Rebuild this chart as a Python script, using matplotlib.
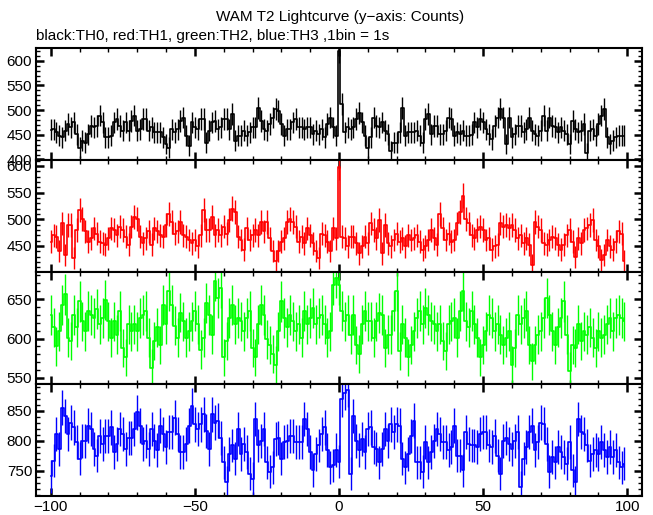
import numpy as np
import matplotlib
matplotlib.use("Agg")
import matplotlib.pyplot as plt
from matplotlib.ticker import MultipleLocator

plt.rcParams['font.family'] = ['Liberation Sans', 'DejaVu Sans']

time = list(range(-100, 100))

th0 = [
    460, 461, 455, 448, 445, 458, 472, 465, 475, 451,
    424, 438, 434, 451, 468, 465, 468, 489, 475, 445,
    445, 448, 475, 482, 468, 458, 475, 458, 478, 489,
    458, 461, 482, 482, 458, 465, 455, 455, 455, 445,
    431, 424, 461, 455, 461, 478, 485, 448, 428, 475,
    465, 461, 482, 482, 434, 458, 475, 478, 461, 465,
    482, 482, 461, 492, 438, 448, 448, 458, 448, 455,
    465, 465, 505, 478, 461, 458, 472, 485, 502, 499,
    472, 448, 461, 461, 475, 482, 465, 465, 461, 465,
    465, 451, 458, 451, 461, 445, 472, 485, 465, 448,
    620, 512, 455, 465, 461, 465, 482, 495, 475, 448,
    424, 445, 485, 468, 465, 475, 458, 451, 418, 434,
    434, 455, 505, 448, 455, 455, 455, 458, 448, 434,
    482, 492, 451, 468, 468, 451, 451, 458, 485, 482,
    448, 455, 451, 458, 448, 448, 450, 475, 465, 482,
    475, 461, 451, 441, 468, 485, 502, 485, 431, 485,
    445, 451, 468, 468, 455, 461, 485, 458, 451, 448,
    458, 489, 458, 485, 468, 465, 455, 465, 458, 451,
    431, 478, 461, 455, 458, 472, 414, 458, 461, 448,
    472, 489, 502, 445, 431, 438, 445, 448, 448, 448,
]

th1 = [
    458, 470, 467, 440, 492, 433, 489, 489, 427, 480,
    517, 501, 477, 458, 464, 483, 473, 458, 455, 452,
    464, 483, 480, 470, 486, 480, 467, 452, 486, 504,
    501, 467, 455, 464, 477, 452, 483, 477, 470, 467,
    489, 510, 495, 473, 477, 495, 470, 467, 461, 455,
    461, 449, 470, 517, 480, 480, 504, 470, 480, 470,
    486, 473, 498, 520, 514, 467, 461, 443, 483, 461,
    470, 480, 470, 495, 477, 495, 464, 440, 421, 440,
    458, 464, 495, 501, 495, 486, 458, 467, 455, 483,
    470, 455, 440, 427, 473, 470, 458, 440, 483, 464,
    598, 467, 464, 449, 467, 467, 455, 436, 449, 467,
    455, 492, 480, 464, 498, 436, 489, 455, 449, 461,
    473, 458, 464, 449, 470, 461, 464, 470, 458, 443,
    449, 461, 480, 464, 452, 510, 483, 461, 473, 458,
    461, 492, 514, 544, 501, 492, 470, 464, 480, 486,
    480, 461, 464, 443, 449, 452, 492, 486, 489, 483,
    489, 480, 464, 470, 455, 464, 452, 415, 495, 486,
    480, 455, 452, 461, 467, 464, 452, 443, 452, 470,
    480, 458, 430, 464, 455, 480, 483, 489, 498, 461,
    449, 424, 433, 461, 449, 443, 458, 477, 473, 421,
]

th2 = [
    630, 614, 590, 609, 643, 656, 601, 597, 630, 614,
    647, 622, 609, 635, 630, 626, 637, 618, 626, 649,
    622, 601, 622, 605, 635, 588, 576, 618, 609, 618,
    609, 626, 630, 635, 601, 563, 597, 614, 592, 643,
    618, 660, 643, 616, 601, 633, 622, 601, 609, 622,
    635, 618, 586, 601, 645, 630, 605, 673, 651, 664,
    576, 597, 626, 643, 618, 626, 622, 609, 626, 635,
    588, 576, 618, 643, 630, 599, 592, 580, 567, 609,
    647, 626, 614, 630, 622, 609, 618, 601, 635, 618,
    626, 639, 618, 626, 630, 618, 601, 609, 668, 677,
    668, 635, 622, 630, 605, 630, 592, 580, 618, 635,
    622, 622, 601, 622, 632, 630, 588, 605, 605, 635,
    660, 584, 618, 601, 576, 592, 609, 626, 635, 618,
    639, 630, 622, 618, 609, 618, 597, 584, 618, 622,
    626, 601, 635, 660, 622, 614, 635, 618, 601, 576,
    592, 609, 630, 626, 609, 618, 605, 592, 601, 609,
    567, 588, 630, 618, 626, 635, 592, 571, 592, 605,
    609, 626, 651, 630, 609, 592, 614, 626, 647, 605,
    559, 592, 588, 618, 597, 609, 605, 614, 601, 588,
    609, 601, 605, 618, 626, 609, 626, 630, 626, 622,
]

th3 = [
    741, 767, 811, 786, 855, 841, 811, 830, 822, 797,
    770, 800, 800, 825, 819, 786, 775, 808, 795, 808,
    808, 822, 781, 795, 819, 811, 786, 805, 805, 819,
    847, 825, 795, 800, 786, 819, 800, 784, 825, 811,
    789, 814, 814, 838, 811, 781, 781, 795, 825, 858,
    827, 819, 827, 844, 816, 786, 844, 830, 833, 805,
    764, 731, 778, 792, 770, 819, 778, 795, 781, 745,
    737, 836, 792, 800, 819, 764, 748, 756, 803, 805,
    770, 797, 800, 808, 808, 797, 797, 797, 836, 819,
    781, 751, 778, 792, 811, 822, 784, 756, 759, 784,
    765, 869, 880, 885, 745, 841, 800, 784, 803, 781,
    819, 822, 789, 786, 764, 786, 819, 800, 827, 814,
    827, 825, 770, 756, 778, 808, 833, 764, 764, 748,
    797, 764, 781, 800, 819, 811, 797, 797, 784, 789,
    825, 775, 775, 751, 814, 795, 792, 792, 789, 811,
    814, 814, 792, 789, 808, 775, 745, 800, 805, 795,
    786, 800, 814, 723, 770, 789, 814, 825, 784, 797,
    830, 827, 795, 748, 773, 764, 789, 781, 773, 762,
    797, 751, 731, 836, 814, 811, 792, 767, 778, 784,
    778, 797, 784, 773, 789, 773, 784, 764, 756, 762,
]

series = [th0, th1, th2, th3]
colors = ['#000000', '#ff0000', '#00ff00', '#0000ff']
ylims = [(400, 627), (402, 612), (543, 685), (708, 895)]
xlim = (-105, 105)

W, H = 653, 515
fig = plt.figure(figsize=(W / 100, H / 100), dpi=100)

left = 36.3 / W
right = 641.7 / W
edges = [47.5, 159.5, 271.5, 383.5, 496.0]

for i, (vals, col, yl) in enumerate(zip(series, colors, ylims)):
    top_px, bot_px = edges[i], edges[i + 1]
    ax = fig.add_axes([left, 1 - bot_px / H, right - left, (bot_px - top_px) / H])
    v = np.array(vals, dtype=float)
    t = np.array(time, dtype=float)
    ax.errorbar(t, v, yerr=np.sqrt(v), fmt='none', ecolor=col, elinewidth=1.0, capsize=0)
    ax.step(t, v, where='mid', color=col, linewidth=1.2)
    ax.set_xlim(*xlim)
    ax.set_ylim(*yl)
    ax.xaxis.set_major_locator(MultipleLocator(50))
    ax.xaxis.set_minor_locator(MultipleLocator(10))
    ax.yaxis.set_major_locator(MultipleLocator(50))
    ax.yaxis.set_minor_locator(MultipleLocator(10))
    ax.tick_params(which='both', direction='in', top=True, right=True, labelsize=11, pad=3)
    ax.tick_params(which='major', length=6, width=1.8)
    ax.tick_params(which='minor', length=3, width=1.0)
    for s in ax.spines.values():
        s.set_linewidth(1.5)
    if i < 3:
        ax.tick_params(labelbottom=False)

fig.text(340 / W, 1 - 17 / H, 'WAM T2 Lightcurve (y\u2212axis: Counts)', ha='center', va='center', fontsize=11)
fig.text(36 / W, 1 - 36 / H, 'black:TH0, red:TH1, green:TH2, blue:TH3 ,1bin = 1s', ha='left', va='center', fontsize=11)

fig.savefig('out.png', dpi=100)
